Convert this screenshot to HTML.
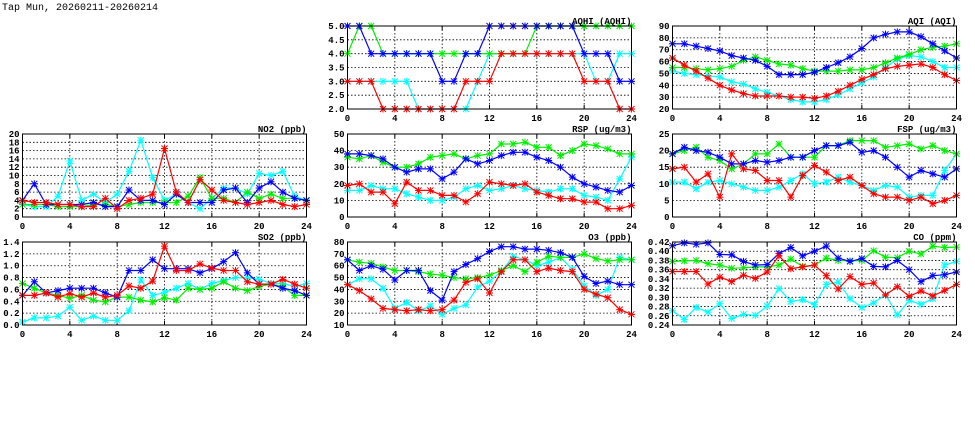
<!DOCTYPE html>
<html><head><meta charset="utf-8">
<style>
html,body{margin:0;padding:0;background:#fff;}
svg{display:block;}
text{font-family:"Liberation Mono",monospace;font-size:9px;font-weight:bold;fill:#000;}
.yl{text-anchor:end;}
.xl{text-anchor:middle;}
.tt{text-anchor:end;}
</style></head><body>
<svg id="s" width="975" height="447" viewBox="0 0 975 447" xmlns="http://www.w3.org/2000/svg">
<rect width="975" height="447" fill="#fff"/>
<text x="2" y="10" style="font-size:10px;font-weight:normal">Tap Mun, 20260211-20260214</text>

<g id="p_aqhi" transform="translate(347.5,26)">
<text class="tt" x="284" y="-2">AQHI (AQHI)</text>
<text class="yl" x="-3" y="3">5.0</text><text class="yl" x="-3" y="16.8">4.5</text><text class="yl" x="-3" y="30.7">4.0</text><text class="yl" x="-3" y="44.5">3.5</text><text class="yl" x="-3" y="58.3">3.0</text><text class="yl" x="-3" y="72.2">2.5</text><text class="yl" x="-3" y="86">2.0</text>
<text class="xl" x="0" y="95">0</text><text class="xl" x="47.3" y="95">4</text><text class="xl" x="94.7" y="95">8</text><text class="xl" x="142" y="95">12</text><text class="xl" x="189.3" y="95">16</text><text class="xl" x="236.7" y="95">20</text><text class="xl" x="284" y="95">24</text>
</g>
<g id="p_aqi" transform="translate(672.5,26)">
<text class="tt" x="284" y="-2">AQI (AQI)</text>
<text class="yl" x="-3" y="3">90</text><text class="yl" x="-3" y="14.9">80</text><text class="yl" x="-3" y="26.7">70</text><text class="yl" x="-3" y="38.6">60</text><text class="yl" x="-3" y="50.4">50</text><text class="yl" x="-3" y="62.3">40</text><text class="yl" x="-3" y="74.1">30</text><text class="yl" x="-3" y="86">20</text>
<text class="xl" x="0" y="95">0</text><text class="xl" x="47.3" y="95">4</text><text class="xl" x="94.7" y="95">8</text><text class="xl" x="142" y="95">12</text><text class="xl" x="189.3" y="95">16</text><text class="xl" x="236.7" y="95">20</text><text class="xl" x="284" y="95">24</text>
</g>
<g id="p_no2" transform="translate(22.5,134)">
<text class="tt" x="284" y="-2">NO2 (ppb)</text>
<text class="yl" x="-3" y="3">20</text><text class="yl" x="-3" y="11.3">18</text><text class="yl" x="-3" y="19.6">16</text><text class="yl" x="-3" y="27.9">14</text><text class="yl" x="-3" y="36.2">12</text><text class="yl" x="-3" y="44.5">10</text><text class="yl" x="-3" y="52.8">8</text><text class="yl" x="-3" y="61.1">6</text><text class="yl" x="-3" y="69.4">4</text><text class="yl" x="-3" y="77.7">2</text><text class="yl" x="-3" y="86">0</text>
<text class="xl" x="0" y="95">0</text><text class="xl" x="47.3" y="95">4</text><text class="xl" x="94.7" y="95">8</text><text class="xl" x="142" y="95">12</text><text class="xl" x="189.3" y="95">16</text><text class="xl" x="236.7" y="95">20</text><text class="xl" x="284" y="95">24</text>
</g>
<g id="p_rsp" transform="translate(347.5,134)">
<text class="tt" x="284" y="-2">RSP (ug/m3)</text>
<text class="yl" x="-3" y="3">50</text><text class="yl" x="-3" y="19.6">40</text><text class="yl" x="-3" y="36.2">30</text><text class="yl" x="-3" y="52.8">20</text><text class="yl" x="-3" y="69.4">10</text><text class="yl" x="-3" y="86">0</text>
<text class="xl" x="0" y="95">0</text><text class="xl" x="47.3" y="95">4</text><text class="xl" x="94.7" y="95">8</text><text class="xl" x="142" y="95">12</text><text class="xl" x="189.3" y="95">16</text><text class="xl" x="236.7" y="95">20</text><text class="xl" x="284" y="95">24</text>
</g>
<g id="p_fsp" transform="translate(672.5,134)">
<text class="tt" x="284" y="-2">FSP (ug/m3)</text>
<text class="yl" x="-3" y="3">25</text><text class="yl" x="-3" y="19.6">20</text><text class="yl" x="-3" y="36.2">15</text><text class="yl" x="-3" y="52.8">10</text><text class="yl" x="-3" y="69.4">5</text><text class="yl" x="-3" y="86">0</text>
<text class="xl" x="0" y="95">0</text><text class="xl" x="47.3" y="95">4</text><text class="xl" x="94.7" y="95">8</text><text class="xl" x="142" y="95">12</text><text class="xl" x="189.3" y="95">16</text><text class="xl" x="236.7" y="95">20</text><text class="xl" x="284" y="95">24</text>
</g>
<g id="p_so2" transform="translate(22.5,242)">
<text class="tt" x="284" y="-2">SO2 (ppb)</text>
<text class="yl" x="-3" y="3">1.4</text><text class="yl" x="-3" y="14.9">1.2</text><text class="yl" x="-3" y="26.7">1.0</text><text class="yl" x="-3" y="38.6">0.8</text><text class="yl" x="-3" y="50.4">0.6</text><text class="yl" x="-3" y="62.3">0.4</text><text class="yl" x="-3" y="74.1">0.2</text><text class="yl" x="-3" y="86">0.0</text>
<text class="xl" x="0" y="95">0</text><text class="xl" x="47.3" y="95">4</text><text class="xl" x="94.7" y="95">8</text><text class="xl" x="142" y="95">12</text><text class="xl" x="189.3" y="95">16</text><text class="xl" x="236.7" y="95">20</text><text class="xl" x="284" y="95">24</text>
</g>
<g id="p_o3" transform="translate(347.5,242)">
<text class="tt" x="284" y="-2">O3 (ppb)</text>
<text class="yl" x="-3" y="3">80</text><text class="yl" x="-3" y="14.9">70</text><text class="yl" x="-3" y="26.7">60</text><text class="yl" x="-3" y="38.6">50</text><text class="yl" x="-3" y="50.4">40</text><text class="yl" x="-3" y="62.3">30</text><text class="yl" x="-3" y="74.1">20</text><text class="yl" x="-3" y="86">10</text>
<text class="xl" x="0" y="95">0</text><text class="xl" x="47.3" y="95">4</text><text class="xl" x="94.7" y="95">8</text><text class="xl" x="142" y="95">12</text><text class="xl" x="189.3" y="95">16</text><text class="xl" x="236.7" y="95">20</text><text class="xl" x="284" y="95">24</text>
</g>
<g id="p_co" transform="translate(672.5,242)">
<text class="tt" x="284" y="-2">CO (ppm)</text>
<text class="yl" x="-3" y="3">0.42</text><text class="yl" x="-3" y="12.2">0.40</text><text class="yl" x="-3" y="21.4">0.38</text><text class="yl" x="-3" y="30.7">0.36</text><text class="yl" x="-3" y="39.9">0.34</text><text class="yl" x="-3" y="49.1">0.32</text><text class="yl" x="-3" y="58.3">0.30</text><text class="yl" x="-3" y="67.6">0.28</text><text class="yl" x="-3" y="76.8">0.26</text><text class="yl" x="-3" y="86">0.24</text>
<text class="xl" x="0" y="95">0</text><text class="xl" x="47.3" y="95">4</text><text class="xl" x="94.7" y="95">8</text><text class="xl" x="142" y="95">12</text><text class="xl" x="189.3" y="95">16</text><text class="xl" x="236.7" y="95">20</text><text class="xl" x="284" y="95">24</text>
</g>
</svg>
<script>
var NS="http://www.w3.org/2000/svg",W=284,H=83;
var cols={c:"#00ffff",g:"#00ee00",b:"#0000ff",r:"#ff0000"};
var P={
p_aqhi:{min:2,max:5,n:6,d:{
c:[3,3,3,3,3,3,2,2,2,2,2,3,4,4,4,4,4,4,4,4,4,3,3,4,4],
g:[4,5,5,4,4,4,4,4,4,4,4,4,4,4,4,4,5,5,5,5,5,5,5,5,5],
b:[5,5,4,4,4,4,4,4,3,3,4,4,5,5,5,5,5,5,5,5,4,4,4,3,3],
r:[3,3,3,2,2,2,2,2,2,2,3,3,3,4,4,4,4,4,4,4,3,3,3,2,2]}},
p_aqi:{min:20,max:90,n:7,d:{
c:[52,50,49,48,47,43,41,37,34,31,28,26,26,28,32,37,42,47,55,62,65,64,60,55,55],
g:[55,55,54,53,54,56,61,64,61,58,57,54,52,52,52,53,53,55,59,63,66,70,72,73,75],
b:[75,75,73,71,69,65,63,61,56,49,49,49,51,55,59,64,71,80,83,85,85,81,75,69,63],
r:[63,57,52,46,40,36,33,31,31,31,30,30,29,31,35,40,45,49,54,56,57,58,55,49,44]}},
p_no2:{min:0,max:20,n:10,d:{
c:[3,2.5,2.5,5,13.5,4,5.5,3.5,5.5,11,18.5,9.5,4,5.5,3.5,2,4.5,7,7,5.5,10.5,10,11,5,4],
g:[3,3,3,2.5,2.5,2.5,3,3,2.5,3,3.5,3.5,3.5,3.5,5,9.5,4.5,4.5,3.5,6,4.5,5.5,4.5,4.5,4],
b:[4,8,3,3,3,3,3.5,2.5,2.5,6.5,4,4,3,5.5,3.5,3.5,3.5,6.5,7,3.5,7,8.5,6,4.5,4],
r:[4,3.5,3.5,3,3,2.5,2.5,4.5,2,4,4.5,5.5,16.5,6,3.5,9,6.5,4,3.5,3,3.5,4,3,2.5,3]}},
p_rsp:{min:0,max:50,n:5,d:{
c:[16,16,19,17,17,14,12,10,10,12,17,19,16,17,19,17,16,15,17,17,13,12,10,23,36],
g:[36,35,37,33,30,30,32,36,37,38,35,37,38,44,44,45,42,42,37,40,44,43,41,38,38],
b:[38,38,37,35,30,27,29,29,23,27,35,32,34,37,39,39,36,34,30,24,20,18,16,15,19],
r:[19,20,15,15,8,21,16,16,13,13,9,14,21,20,19,20,15,13,11,11,9,9,5,5,7]}},
p_fsp:{min:0,max:25,n:5,d:{
c:[10.5,10.5,8.5,10.5,11,10,9,8,8,9,11,13,10,10.5,12,10.5,9.5,8,9.5,9,6,6.5,6.5,14,19],
g:[19,20,21,18,17,14.5,16,19,19,22,18,18,18,21.5,21.5,23,23,23,21,21.5,22,20.5,21.5,20,19],
b:[19,21,20,19.5,18,16,16,17,16.5,17,18,18,20,21.5,21.5,22.5,19.5,20,18,15,12,14,13,12,14.5],
r:[14.5,15,10.5,13,6,19,14.5,14,11,11,6,12.5,15.5,13.5,11,12,9.5,7,6,6,5,6,4,5,6.5]}},
p_so2:{min:0,max:1.4,n:7,d:{
c:[.05,.12,.12,.15,.3,.08,.15,.08,.08,.24,.76,.5,.55,.62,.7,.6,.7,.75,.8,.8,.77,.7,.7,.65,.7],
g:[.7,.62,.54,.5,.45,.5,.42,.39,.47,.47,.42,.39,.46,.42,.62,.6,.62,.73,.62,.58,.65,.69,.65,.5,.5],
b:[.5,.73,.54,.58,.62,.62,.62,.54,.47,.92,.92,1.1,.95,.95,.95,.88,.95,1.07,1.22,.88,.69,.69,.62,.58,.5],
r:[.5,.5,.54,.47,.53,.47,.54,.47,.5,.66,.62,.74,1.33,.92,.92,1.03,.96,.92,.92,.73,.69,.69,.77,.69,.62]}},
p_o3:{min:10,max:80,n:7,d:{
c:[44,49,49,41,24,29,22,26,19,24,27,42,47,55,68,65,60,63,67,57,43,35,40,67,65],
g:[65,63,62,59,56,56,55,53,52,50,49,50,52,56,60,55,63,68,67,67,70,66,64,65,65],
b:[65,56,60,57,48,56,56,39,31,55,61,66,72,76,76,74,74,73,71,67,51,45,47,44,44],
r:[44,39,32,24,23,22,23,22,23,31,46,49,37,55,65,65,55,58,56,55,40,36,33,23,19]}},
p_co:{min:.24,max:.42,n:9,d:{
c:[.271,.252,.278,.268,.286,.254,.263,.261,.281,.319,.291,.295,.284,.328,.333,.297,.278,.288,.306,.262,.293,.285,.297,.370,.378],
g:[.378,.379,.380,.373,.370,.363,.364,.366,.366,.370,.383,.367,.370,.385,.380,.379,.380,.401,.387,.386,.400,.394,.411,.408,.409],
b:[.412,.418,.415,.418,.393,.392,.378,.370,.371,.395,.408,.390,.400,.411,.385,.378,.384,.367,.366,.380,.360,.334,.347,.349,.355],
r:[.356,.356,.356,.329,.344,.334,.348,.341,.355,.390,.362,.366,.370,.347,.318,.345,.328,.331,.305,.323,.302,.314,.303,.315,.328]}}
};
function el(t,a,p){var e=document.createElementNS(NS,t);for(var k in a)e.setAttribute(k,a[k]);p.insertBefore(e,p.firstChild&&t!=="polyline"&&t!=="path"?null:null);p.appendChild(e);return e;}
for(var id in P){
 var g=document.getElementById(id),p=P[id];
 var gg=document.createElementNS(NS,"g");g.insertBefore(gg,g.firstChild);
 for(var i=1;i<6;i++){var x=W*i/6;el("line",{x1:x,y1:0,x2:x,y2:H,stroke:"#000","stroke-width":0.8,"stroke-dasharray":"1.5,2"},gg);}
 for(var j=1;j<p.n;j++){var y=H*j/p.n;el("line",{x1:0,y1:y,x2:W,y2:y,stroke:"#000","stroke-width":0.8,"stroke-dasharray":"1.5,2"},gg);}
 for(var i=0;i<=6;i++){var x=W*i/6;el("line",{x1:x,y1:H,x2:x,y2:H-4,stroke:"#000"},gg);el("line",{x1:x,y1:0,x2:x,y2:4,stroke:"#000"},gg);}
 ["c","g","b","r"].forEach(function(k){
  var v=p.d[k],pts=[],m="";
  for(var i=0;i<v.length;i++){var x=W*i/24,y=H*(p.max-v[i])/(p.max-p.min);pts.push(x.toFixed(1)+","+y.toFixed(1));
   m+="M"+(x-3)+","+(y-3)+"L"+(x+3)+","+(y+3)+"M"+(x-3)+","+(y+3)+"L"+(x+3)+","+(y-3)+"M"+(x-3.5)+","+y+"L"+(x+3.5)+","+y+"M"+x+","+(y-3.5)+"L"+x+","+(y+3.5);}
  el("polyline",{points:pts.join(" "),fill:"none",stroke:cols[k],"stroke-width":1.2},gg);
  el("path",{d:m,fill:"none",stroke:cols[k],"stroke-width":1},gg);
 });
 el("rect",{x:0,y:0,width:W,height:H,fill:"none",stroke:"#000","stroke-width":1},gg);
}
</script>
</body></html>
